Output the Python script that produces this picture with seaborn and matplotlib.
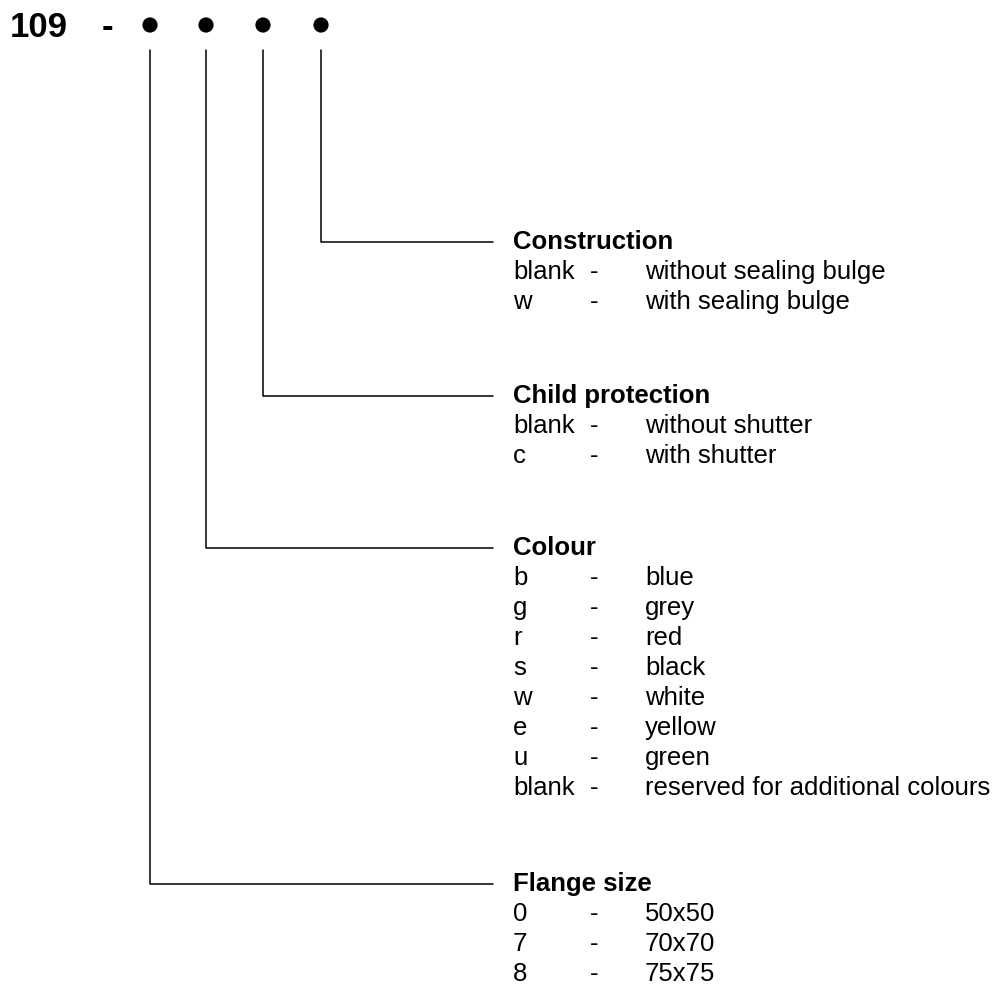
import pandas as pd
import seaborn as sns
import matplotlib.pyplot as plt

# 型号编码说明
prefix = '109'
headings = ['Construction', 'Child protection', 'Colour', 'Flange size']
construction_codes = ['blank', 'w']
construction_desc = ['without sealing bulge', 'with sealing bulge']
child_codes = ['blank', 'c']
child_desc = ['without shutter', 'with shutter']
colour_codes = ['b', 'g', 'r', 's', 'w', 'e', 'u', 'blank']
colour_desc = ['blue', 'grey', 'red', 'black', 'white', 'yellow', 'green',
               'reserved for additional colours']
flange_codes = ['0', '7', '8']
flange_desc = ['50x50', '70x70', '75x75']

groups = [
    (construction_codes, construction_desc),
    (child_codes, child_desc),
    (colour_codes, colour_desc),
    (flange_codes, flange_desc),
]

# 布局 (像素)
dot_x = [321, 263, 206, 150]      # 每个标题连到哪个圆点
heading_y = [242, 396, 548, 884]
line_end_x = 493
text_x = [513, 590, 645]
row_step = 30

sns.set_theme(style='white')
plt.rcParams['font.family'] = ['Liberation Sans', 'DejaVu Sans']
plt.rcParams['text.color'] = 'black'

fig = plt.figure(figsize=(10.06, 9.89), dpi=100)
ax = fig.add_axes([0, 0, 1, 1])

# 连接线
rows = []
for i, hy in enumerate(heading_y):
    for x, y in [(dot_x[i], 50), (dot_x[i], hy), (line_end_x, hy)]:
        rows.append({'line': i, 'x': x, 'y': y})
lines = pd.DataFrame(rows)
sns.lineplot(data=lines, x='x', y='y', units='line', estimator=None, sort=False,
             color='black', linewidth=1.1, ax=ax, legend=False)

# 圆点
dots = pd.DataFrame({'x': dot_x, 'y': [25] * 4})
sns.scatterplot(data=dots, x='x', y='y', s=120, color='black', ax=ax, legend=False,
                edgecolor='none')

ax.text(10, 37, prefix, fontsize=25, fontweight='bold', va='baseline')
ax.text(102, 37, '-', fontsize=25, fontweight='bold', va='baseline')

fs = 18.5
for i, (codes, desc) in enumerate(groups):
    base = heading_y[i] + 7
    ax.text(text_x[0], base, headings[i], fontsize=fs, fontweight='bold', va='baseline')
    for k, (c, d) in enumerate(zip(codes, desc)):
        y = base + (k + 1) * row_step
        ax.text(text_x[0], y, c, fontsize=fs, va='baseline')
        ax.text(text_x[1], y, '-', fontsize=fs, va='baseline')
        ax.text(text_x[2], y, d, fontsize=fs, va='baseline')

ax.set_xlim(0, 1006)
ax.set_ylim(989, 0)
ax.axis('off')

plt.savefig('out.png', dpi=100)
plt.close()
